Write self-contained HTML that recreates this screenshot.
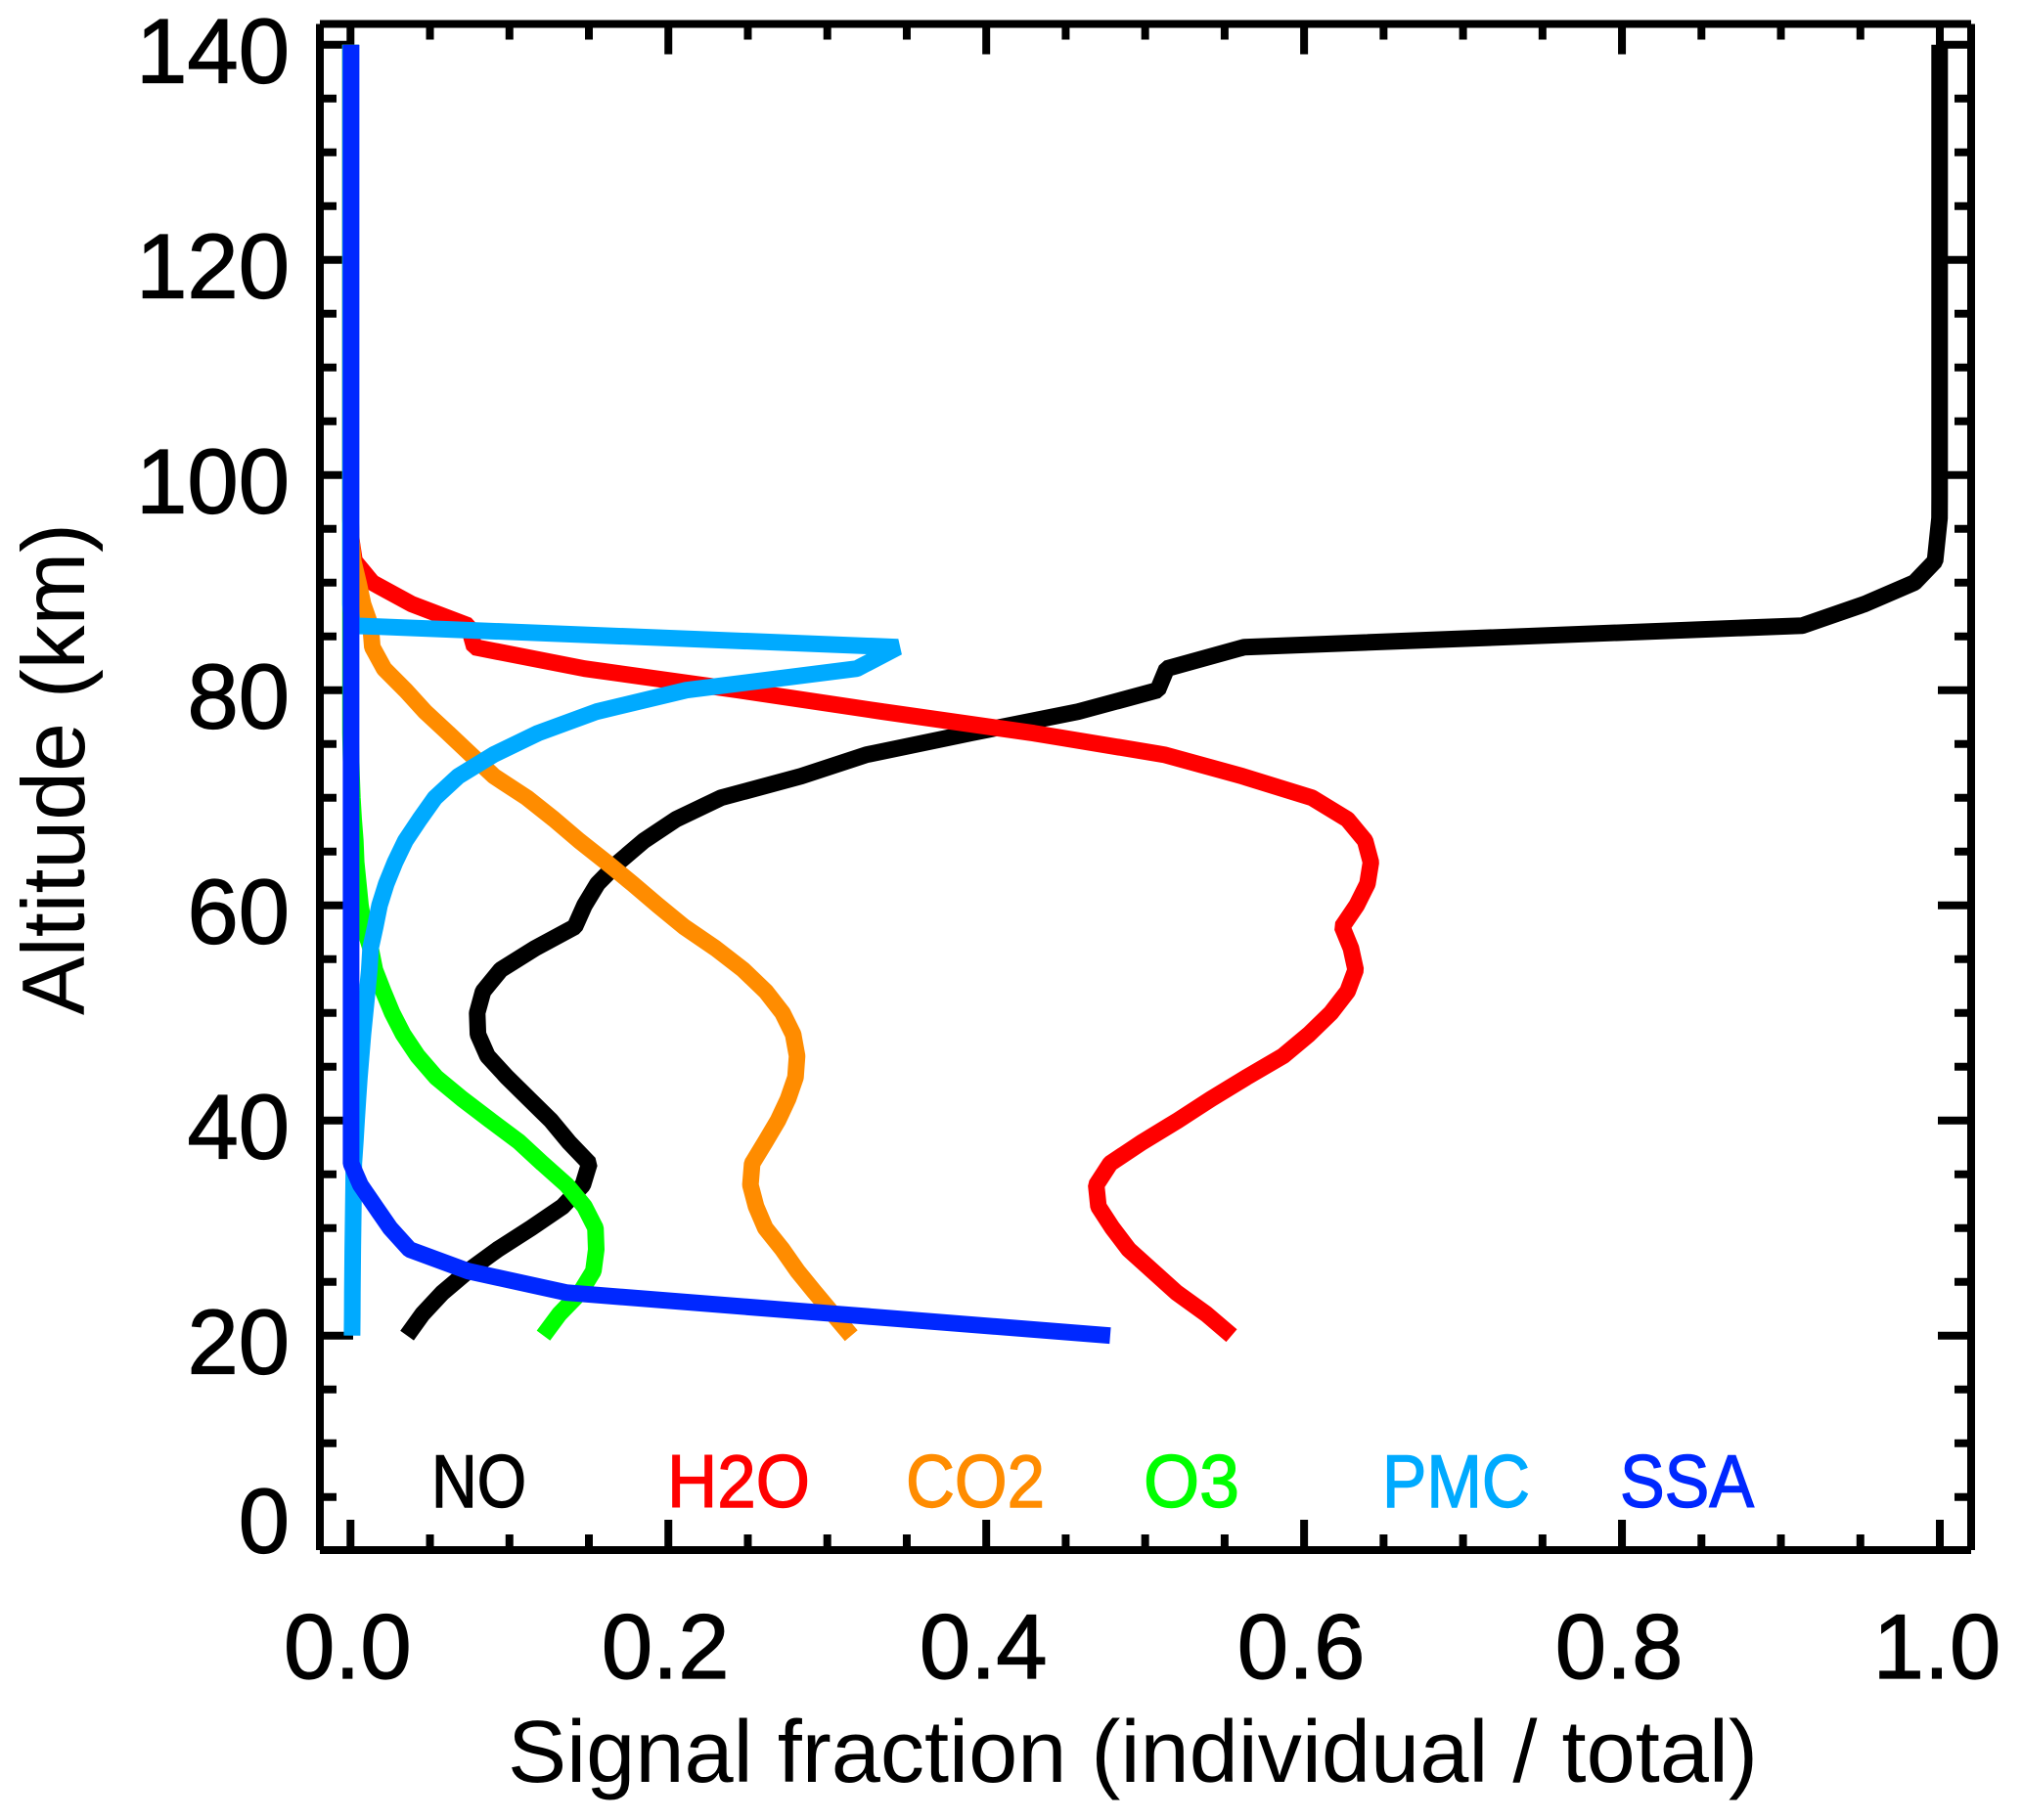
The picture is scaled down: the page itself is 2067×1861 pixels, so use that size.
<!DOCTYPE html>
<html lang="en">
<head>
<meta charset="utf-8">
<title>Signal fraction by altitude</title>
<style>
html,body{margin:0;padding:0;background:#fff;width:2067px;height:1861px;overflow:hidden}
svg{display:block}
text{font-family:"Liberation Sans",sans-serif;fill:#000}
</style>
</head>
<body>
<svg id="chart" xmlns="http://www.w3.org/2000/svg" width="2067" height="1861" viewBox="0 0 2067 1861">
  <rect x="0" y="0" width="2067" height="1861" fill="#fff"/>
  <g id="ticks"></g>
  <g id="series"></g>
  <g id="frame" stroke="#000" stroke-width="8" fill="none">
    <line x1="327" y1="24.5" x2="327" y2="1585"/>
    <line x1="2015" y1="24.5" x2="2015" y2="1585"/>
    <line x1="327" y1="24.5" x2="2015" y2="24.5"/>
    <line x1="327" y1="1585" x2="2015" y2="1585"/>
  </g>
  <g id="tick-labels"></g>
  <g font-size="76" stroke-width="1.4">
    <text x="441" y="1541" textLength="97" lengthAdjust="spacingAndGlyphs" style="fill:#000000" stroke="#000000">NO</text>
    <text x="682" y="1541" textLength="146" lengthAdjust="spacingAndGlyphs" style="fill:#ff0000" stroke="#ff0000">H2O</text>
    <text x="926" y="1541" textLength="142" lengthAdjust="spacingAndGlyphs" style="fill:#ff8c00" stroke="#ff8c00">CO2</text>
    <text x="1169" y="1541" textLength="98" lengthAdjust="spacingAndGlyphs" style="fill:#00ff00" stroke="#00ff00">O3</text>
    <text x="1413" y="1541" textLength="151" lengthAdjust="spacingAndGlyphs" style="fill:#00aaff" stroke="#00aaff">PMC</text>
    <text x="1656" y="1541" textLength="137" lengthAdjust="spacingAndGlyphs" style="fill:#0028ff" stroke="#0028ff">SSA</text>
  </g>
  <text x="519" y="1822" font-size="90" textLength="1278" lengthAdjust="spacingAndGlyphs">Signal fraction (individual / total)</text>
  <text transform="translate(86 1038) rotate(-90)" x="0" y="0" font-size="91" textLength="503" lengthAdjust="spacingAndGlyphs">Altitude (km)</text>
</svg>
<script>
const altitudes = [20,22,24,26,28,30,32,34,36,38,40,42,44,46,48,50,52,54,56,58,60,62,64,66,68,70,72,74,76,78,80,82,84,86,88,90,92,94,96,98,100,102,104,106,108,110,112,114,116,118,120,122,124,126,128,130,132,134,136,138,140];
const noValues = [.0356,.0453,.0579,.0739,.0925,.1136,.1335,.1462,.1503,.1373,.1261,.1123,.0986,.0862,.0802,.0797,.0834,.0945,.1161,.1412,.1472,.1554,.1687,.1846,.2049,.2332,.2835,.3247,.39,.4578,.5079,.5135,.5624,.9135,.9526,.984,.997,.9984,.9998,.9999,.9999,.9999,.9999,.9999,.9999,.9999,.9999,.9999,.9999,.9999,.9999,.9999,.9999,.9999,.9999,.9999,.9999,.9999,.9999,.9999,.9999];
const h2oValues = [.5544,.5385,.5197,.5047,.4897,.4794,.4706,.4692,.478,.4983,.5205,.5414,.5636,.5868,.603,.6169,.6274,.6324,.6295,.6239,.6331,.6399,.642,.6384,.6272,.605,.5612,.512,.43,.335,.2441,.1472,.0779,.0741,.0385,.0137,.0025,.0005,0,0,0,0,0,0,0,0,0,0,0,0,0,0,0,0,0,0,0,0,0,0,0];
const co2Values = [.3151,.3036,.2923,.2813,.2718,.261,.2552,.2516,.2527,.261,.269,.2753,.28,.281,.2785,.2718,.2613,.2472,.2297,.2099,.1934,.1775,.161,.1439,.128,.111,.0903,.0758,.0615,.0469,.0346,.0211,.0137,.0126,.0079,.005,.0017,.0005,0,0,0,0,0,0,0,0,0,0,0,0,0,0,0,0,0,0,0,0,0,0,0];
const o3Values = [.1214,.1314,.1445,.1528,.1546,.1541,.1472,.136,.1208,.1062,.0881,.0703,.0539,.0422,.0332,.0262,.0206,.0153,.0126,.0085,.0063,.0049,.0036,.003,.002,.0012,.0007,.0003,0,0,0,0,0,0,0,0,0,0,0,0,0,0,0,0,0,0,0,0,0,0,0,0,0,0,0,0,0,0,0,0,0];
const pmcValues = [.001,.0011,.0012,.0013,.0014,.0016,.0018,.002,.0021,.003,.0038,.0047,.0056,.0067,.0078,.0092,.0105,.0118,.0126,.0156,.0183,.0225,.028,.0345,.0436,.0532,.0678,.0899,.1179,.1548,.2113,.3186,.3445,.001,0,0,0,0,0,0,0,0,0,0,0,0,0,0,0,0,0,0,0,0,0,0,0,0,0,0,0];
const ssaValues = [.478,.307,.1357,.0739,.0372,.0249,.0156,.0063,.0004,.0004,.0004,.0004,.0004,.0004,.0004,.0004,.0004,.0004,.0004,.0004,.0004,.0004,.0004,.0004,.0004,.0004,.0004,.0004,.0004,.0004,.0004,.0004,.0004,.0004,.0004,.0004,.0004,.0004,.0004,.0004,.0004,.0004,.0004,.0004,.0004,.0004,.0004,.0004,.0004,.0004,.0004,.0004,.0004,.0004,.0004,.0004,.0004,.0004,.0004,.0004,.0004];
const xTickLabels = ["0.0","0.2","0.4","0.6","0.8","1.0"];
const yTickLabels = ["0","20","40","60","80","100","120","140"];

const NS = "http://www.w3.org/2000/svg";
function xScale(v){ return 358.3 + 1624.7 * v; }
function yScale(km){ return 1585.7 - 11 * km; }

function mkLine(x1,y1,x2,y2){
  const l = document.createElementNS(NS,"line");
  l.setAttribute("x1",x1); l.setAttribute("y1",y1);
  l.setAttribute("x2",x2); l.setAttribute("y2",y2);
  l.setAttribute("stroke","#000"); l.setAttribute("stroke-width",8);
  return l;
}

const ticksG = document.getElementById("ticks");
// x ticks (bottom + top); every 0.05, major every 0.2
for (let i = 0; i <= 20; i++) {
  const v = i / 20, x = xScale(v), major = i % 4 === 0, len = major ? 31 : 16;
  const b = mkLine(x, 1585, x, 1585 - len);
  
  
  ticksG.appendChild(b);
  const t = mkLine(x, 24.5, x, 24.5 + len);
  
  
  ticksG.appendChild(t);
}
// y ticks (left + right); every 5 km, major every 20 km
for (let km = 5; km <= 140; km += 5) {
  const y = yScale(km), major = km % 20 === 0, len = major ? 34 : 17;
  const l = mkLine(327, y, 327 + len, y);
  
  
  ticksG.appendChild(l);
  const r = mkLine(2015, y, 2015 - len, y);
  
  
  ticksG.appendChild(r);
}

const seriesG = document.getElementById("series");
function drawSeries(values, color, width, name){
  const p = document.createElementNS(NS,"polyline");
  p.setAttribute("points", values.map((v,i)=>xScale(v).toFixed(1)+","+yScale(altitudes[i]).toFixed(1)).join(" "));
  p.setAttribute("fill","none");
  p.setAttribute("stroke",color);
  p.setAttribute("stroke-width",width);
  p.setAttribute("stroke-linejoin","bevel");
  p.setAttribute("stroke-linecap","butt");
  
  
  seriesG.appendChild(p);
}
drawSeries(noValues,  "#000000", 17, "series-no");
drawSeries(h2oValues, "#ff0000", 17, "series-h2o");
drawSeries(co2Values, "#ff8c00", 17, "series-co2");
drawSeries(o3Values,  "#00ff00", 17, "series-o3");
drawSeries(pmcValues, "#00aaff", 17, "series-pmc");
drawSeries(ssaValues, "#0028ff", 17, "series-ssa");

const labelsG = document.getElementById("tick-labels");
xTickLabels.forEach(function(s){
  const t = document.createElementNS(NS,"text");
  t.textContent = s;
  t.setAttribute("x", xScale(parseFloat(s)) - 3);
  t.setAttribute("y", 1716);
  t.setAttribute("font-size", 94);
  t.setAttribute("text-anchor", "middle");
  t.setAttribute("stroke", "#000");
  t.setAttribute("stroke-width", 1.2);
  
  
  labelsG.appendChild(t);
});
yTickLabels.forEach(function(s){
  const km = parseFloat(s);
  const t = document.createElementNS(NS,"text");
  t.textContent = s;
  t.setAttribute("x", 296);
  t.setAttribute("y", km === 0 ? yScale(km) + 2 : yScale(km) + 39);
  t.setAttribute("font-size", 94);
  t.setAttribute("text-anchor", "end");
  t.setAttribute("stroke", "#000");
  t.setAttribute("stroke-width", 1.2);
  
  
  labelsG.appendChild(t);
});
</script>
</body>
</html>
